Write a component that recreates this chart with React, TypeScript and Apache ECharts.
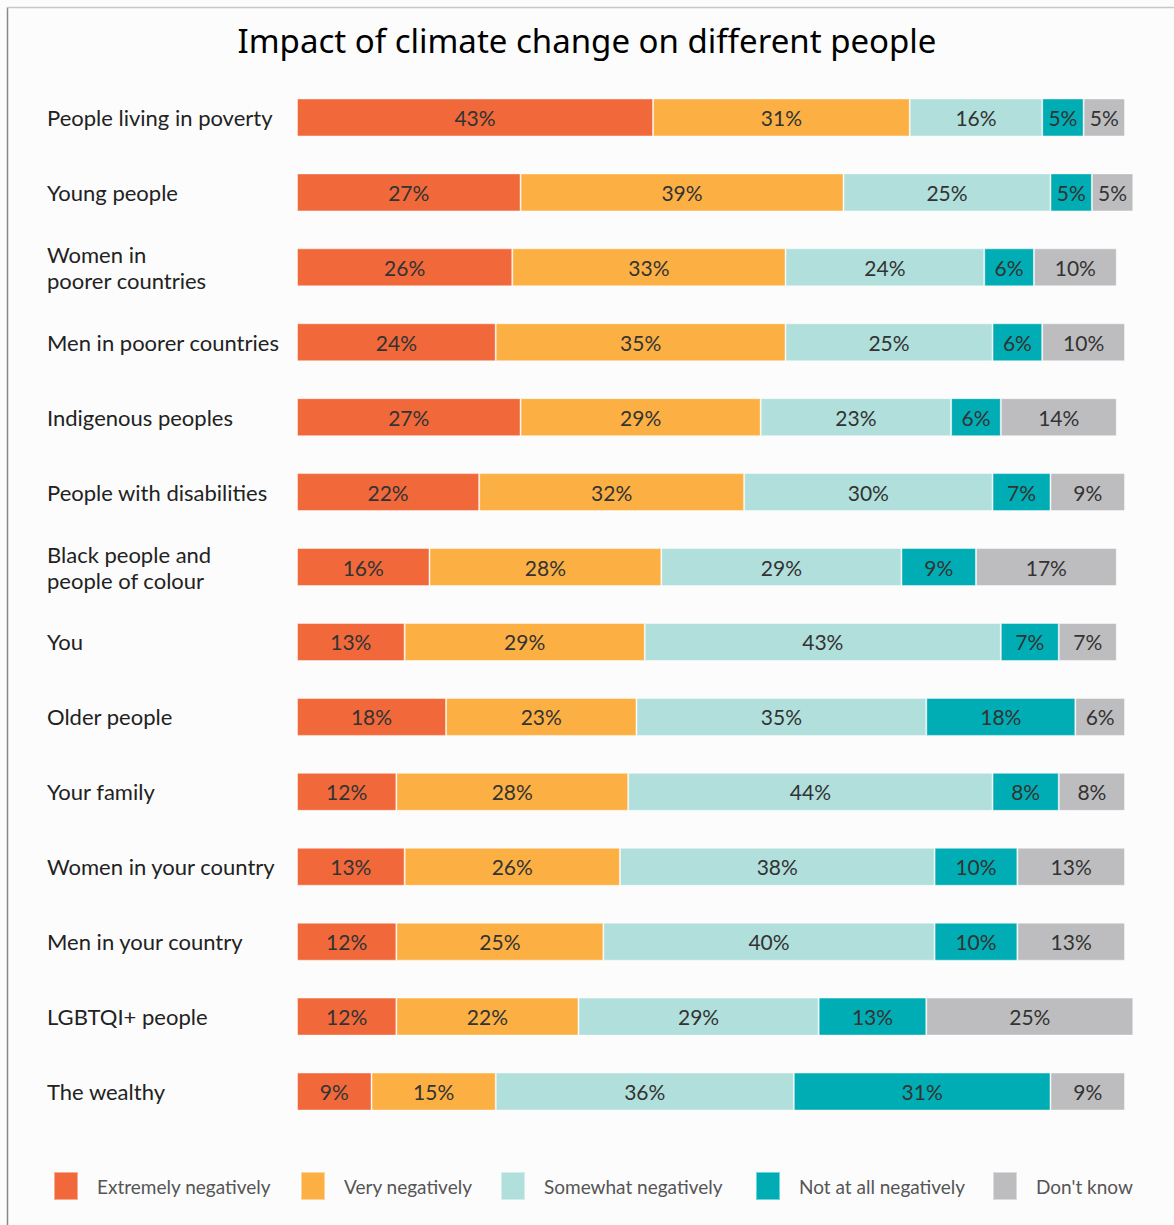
import React, { useEffect, useRef } from "react";
import * as echarts from "echarts";

const categories = [
  "People living in poverty",
  "Young people",
  "Women in\npoorer countries",
  "Men in poorer countries",
  "Indigenous peoples",
  "People with disabilities",
  "Black people and\npeople of colour",
  "You",
  "Older people",
  "Your family",
  "Women in your country",
  "Men in your country",
  "LGBTQI+ people",
  "The wealthy",
];

const seriesNames = [
  "Extremely negatively",
  "Very negatively",
  "Somewhat negatively",
  "Not at all negatively",
  "Don't know",
];

const extremely = [43, 27, 26, 24, 27, 22, 16, 13, 18, 12, 13, 12, 12, 9];
const very = [31, 39, 33, 35, 29, 32, 28, 29, 23, 28, 26, 25, 22, 15];
const somewhat = [16, 25, 24, 25, 23, 30, 29, 43, 35, 44, 38, 40, 29, 36];
const notAtAll = [5, 5, 6, 6, 6, 7, 9, 7, 18, 8, 10, 10, 13, 31];
const dontKnow = [5, 5, 10, 10, 14, 9, 17, 7, 6, 8, 13, 13, 25, 9];

const colors = ["#F1683A", "#FCB043", "#B0DFDC", "#00ADB4", "#BDBDBF"];
const legendLefts = [53, 300, 500, 755, 992];

export default function App() {
  const ref = useRef<HTMLDivElement>(null);
  useEffect(() => {
    if (!ref.current) return;
    const chart = echarts.init(ref.current, null, { renderer: "svg" });
    const values = [extremely, very, somewhat, notAtAll, dontKnow];
    const font = "Lato, 'Open Sans', sans-serif";
    chart.setOption({
      animation: false,
      backgroundColor: "#fcfcfc",
      title: {
        text: "Impact of climate change on different people",
        left: "center",
        top: 19,
        textStyle: {
          fontFamily: "'Noto Sans', Lato, sans-serif",
          fontSize: 33,
          fontWeight: "normal",
          color: "#000",
        },
      },
      legend: seriesNames.map((n, i) => ({
        data: [n],
        left: legendLefts[i],
        top: 1171,
        padding: 0,
        itemWidth: 24,
        itemHeight: 28,
        icon: "rect",
        selectedMode: false,
        textStyle: {
          fontFamily: font,
          fontSize: 19,
          color: "#555",
          padding: [0, 0, 0, 14],
        },
      })),
      grid: {
        left: 297,
        top: 80,
        width: 836.3,
        height: 1049,
        containLabel: false,
      },
      xAxis: {
        type: "value",
        min: 0,
        max: 101,
        show: false,
      },
      yAxis: {
        type: "category",
        data: categories,
        inverse: true,
        axisLine: { show: false },
        axisTick: { show: false },
        axisLabel: {
          align: "left",
          margin: 250,
          fontFamily: font,
          fontSize: 22,
          lineHeight: 26,
          color: "#222",
        },
      },
      series: seriesNames.map((n, i) => ({
        name: n,
        type: "bar",
        stack: "total",
        barWidth: 38,
        data: values[i],
        itemStyle: {
          color: colors[i],
          borderColor: "rgba(255,255,255,0.45)",
          borderWidth: 1,
        },
        label: {
          show: true,
          position: "inside",
          formatter: "{c}%",
          fontFamily: font,
          fontSize: 21,
          color: "#333",
        },
      })),
      graphic: [
        {
          type: "line",
          shape: { x1: 7.5, y1: 7, x2: 7.5, y2: 1225 },
          style: { stroke: "#888", lineWidth: 1.5 },
        },
        {
          type: "line",
          shape: { x1: 7, y1: 7.5, x2: 1174, y2: 7.5 },
          style: { stroke: "#c8c8c8", lineWidth: 1.5 },
        },
      ],
    });
    return () => chart.dispose();
  }, []);
  return (
    <div
      ref={ref}
      style={{ position: "absolute", left: 0, top: 0, width: 1174, height: 1225 }}
    />
  );
}
